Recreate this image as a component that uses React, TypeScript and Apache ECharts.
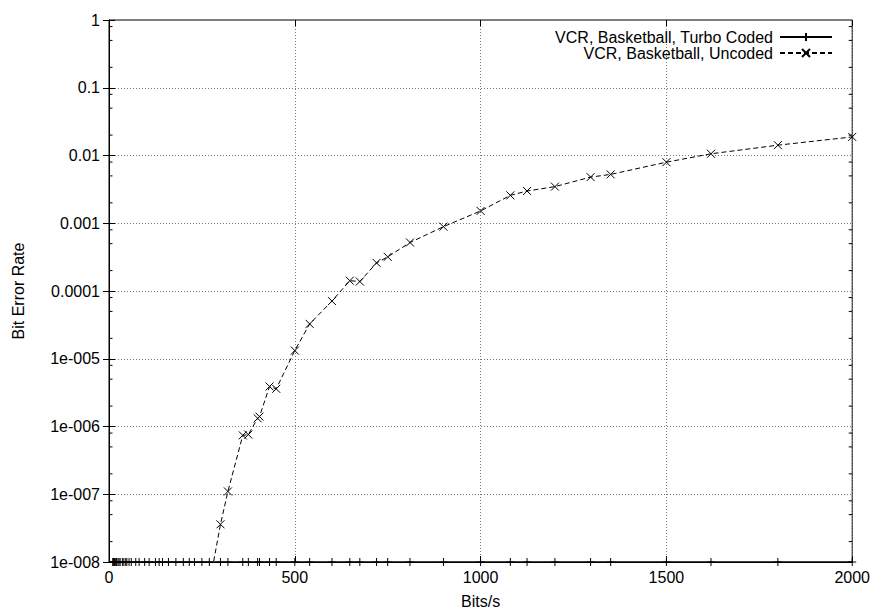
import React, { useEffect, useRef } from "react";
import * as echarts from "echarts";

// ---- data ----
const turboName = "VCR, Basketball, Turbo Coded";
const uncodedName = "VCR, Basketball, Uncoded";

const turboBitRates = [
  10, 12, 15, 18, 20, 24, 27, 30, 36, 40, 45, 48, 54, 60, 72, 81, 96, 108, 125, 135, 144, 160, 180,
  200, 216, 230, 250, 270, 300, 320, 360, 375, 400, 405, 432, 450, 500, 540, 600, 648, 675, 720,
  750, 810, 900, 1000, 1080, 1125, 1200, 1296, 1350, 1500, 1620, 1800, 2000,
];
const turboBER = [
  1e-8, 1e-8, 1e-8, 1e-8, 1e-8, 1e-8, 1e-8, 1e-8, 1e-8, 1e-8, 1e-8, 1e-8, 1e-8, 1e-8, 1e-8, 1e-8,
  1e-8, 1e-8, 1e-8, 1e-8, 1e-8, 1e-8, 1e-8, 1e-8, 1e-8, 1e-8, 1e-8, 1e-8, 1e-8, 1e-8, 1e-8, 1e-8,
  1e-8, 1e-8, 1e-8, 1e-8, 1e-8, 1e-8, 1e-8, 1e-8, 1e-8, 1e-8, 1e-8, 1e-8, 1e-8, 1e-8, 1e-8, 1e-8,
  1e-8, 1e-8, 1e-8, 1e-8, 1e-8, 1e-8, 1e-8,
];

const uncodedBitRates = [
  270, 300, 320, 360, 375, 400, 405, 432, 450, 500, 540, 600, 648, 675, 720, 750, 810, 900, 1000,
  1080, 1125, 1200, 1296, 1350, 1500, 1620, 1800, 2000,
];
const uncodedBER = [
  4.6e-9, 3.6e-8, 1.1e-7, 7.4e-7, 7.6e-7, 1.32e-6, 1.4e-6, 3.9e-6, 3.6e-6, 1.32e-5, 3.27e-5,
  7.1e-5, 1.42e-4, 1.38e-4, 2.6e-4, 3.19e-4, 5.2e-4, 8.9e-4, 1.52e-3, 2.58e-3, 2.99e-3, 3.47e-3,
  4.8e-3, 5.26e-3, 7.97e-3, 1.06e-2, 1.42e-2, 1.88e-2,
];

const xTickLabels = ["0", "500", "1000", "1500", "2000"];
const yTickLabels = ["1e-008", "1e-007", "1e-006", "1e-005", "0.0001", "0.001", "0.01", "0.1", "1"];
const yMinorTicks = [
  2e-8, 5e-8, 8e-8, 2e-7, 5e-7, 8e-7, 2e-6, 5e-6, 8e-6, 2e-5, 5e-5, 8e-5, 2e-4, 5e-4, 8e-4, 2e-3,
  5e-3, 8e-3, 2e-2, 5e-2, 8e-2, 2e-1, 5e-1, 8e-1,
];

const FONT = "Liberation Sans";

export default function App() {
  const ref = useRef<HTMLDivElement>(null);

  useEffect(() => {
    if (!ref.current) return;
    const chart = echarts.init(ref.current, null, { renderer: "svg" });

    const crossSymbol = "path://M0,0L10,10M10,0L0,10";
    const plusSymbol = "path://M5,0L5,10M0,5L10,5";

    const option: any = {
      animation: false,
      backgroundColor: "#fff",
      textStyle: { fontFamily: FONT, color: "#000" },
      grid: {
        left: 109,
        right: 20,
        top: 20,
        bottom: 50,
        show: true,
        borderColor: "#000",
        borderWidth: 1,
      },
      legend: [
        {
          data: [turboName],
          right: 40,
          top: 29,
          padding: 0,
          align: "right",
          itemWidth: 52,
          itemHeight: 10,
          itemGap: 0,
          textStyle: { fontFamily: FONT, fontSize: 16, color: "#000", padding: [0, 2, 0, 0] },
          selectedMode: false,
        },
        {
          data: [uncodedName],
          right: 40,
          top: 45,
          padding: 0,
          align: "right",
          itemWidth: 52,
          itemHeight: 10,
          itemGap: 0,
          textStyle: { fontFamily: FONT, fontSize: 16, color: "#000", padding: [0, 2, 0, 0] },
          selectedMode: false,
        },
      ],
      xAxis: [
        {
          type: "value",
          min: 0,
          max: 2000,
          interval: 500,
          name: "Bits/s",
          nameLocation: "middle",
          nameGap: 31,
          nameTextStyle: { fontFamily: FONT, fontSize: 16, color: "#000" },
          axisLine: { show: true, lineStyle: { color: "#000", width: 1 } },
          axisTick: { show: true, inside: true, length: 6, lineStyle: { color: "#000" } },
          axisLabel: {
            fontFamily: FONT,
            fontSize: 16,
            color: "#000",
            margin: 7,
            formatter: (v: number) => xTickLabels[Math.round(v / 500)] ?? "",
          },
          splitLine: { show: true, lineStyle: { color: "#777", width: 1, type: [1, 2] } },
        },
        {
          type: "value",
          position: "top",
          min: 0,
          max: 2000,
          interval: 500,
          axisLine: { show: false },
          axisTick: { show: true, inside: true, length: 6, lineStyle: { color: "#000" } },
          axisLabel: { show: false },
          splitLine: { show: false },
        },
      ],
      yAxis: [
        {
          type: "log",
          logBase: 10,
          min: 1e-8,
          max: 1,
          interval: 1,
          name: "Bit Error Rate",
          nameLocation: "middle",
          nameGap: 83,
          nameRotate: 90,
          nameTextStyle: { fontFamily: FONT, fontSize: 16, color: "#000" },
          axisLine: { show: true, lineStyle: { color: "#000", width: 1 } },
          axisTick: { show: true, inside: true, length: 6, lineStyle: { color: "#000" } },
          axisLabel: {
            fontFamily: FONT,
            fontSize: 16,
            color: "#000",
            margin: 9,
            formatter: (v: number) => {
              const i = Math.round(Math.log10(v)) + 8;
              return yTickLabels[i] ?? "";
            },
          },
          splitLine: { show: true, lineStyle: { color: "#777", width: 1, type: [1, 2] } },
        },
        {
          type: "log",
          logBase: 10,
          position: "right",
          min: 1e-8,
          max: 1,
          interval: 1,
          axisLine: { show: false },
          axisTick: { show: true, inside: true, length: 6, lineStyle: { color: "#000" } },
          axisLabel: { show: false },
          splitLine: { show: false },
        },
      ],
      series: [
        {
          name: turboName,
          type: "line",
          xAxisIndex: 0,
          yAxisIndex: 0,
          data: turboBitRates.map((x, i) => [x, turboBER[i]]),
          symbol: plusSymbol,
          symbolSize: 8,
          showAllSymbol: true,
          clip: false,
          lineStyle: { color: "#000", width: 1, type: "solid" },
          itemStyle: { color: "#000", borderColor: "#000", borderWidth: 1 },
          emphasis: { disabled: true },
          z: 3,
        },
        {
          name: uncodedName,
          type: "line",
          xAxisIndex: 0,
          yAxisIndex: 0,
          data: uncodedBitRates.map((x, i) => [x, uncodedBER[i]]),
          symbol: crossSymbol,
          symbolSize: 8,
          showAllSymbol: true,
          clip: true,
          lineStyle: { color: "#000", width: 1, type: [5, 3] },
          itemStyle: { color: "#000", borderColor: "#000", borderWidth: 1 },
          emphasis: { disabled: true },
          z: 3,
        },
        {
          name: "minorTicks",
          type: "custom",
          xAxisIndex: 0,
          yAxisIndex: 0,
          silent: true,
          data: yMinorTicks.map((v) => [0, v]),
          renderItem: (params: any, api: any) => {
            const y = api.coord([0, api.value(1)])[1];
            const cs = params.coordSys;
            const len = 3.5;
            return {
              type: "group",
              children: [
                {
                  type: "line",
                  shape: { x1: cs.x, y1: y, x2: cs.x + len, y2: y },
                  style: { stroke: "#000", lineWidth: 1 },
                },
                {
                  type: "line",
                  shape: { x1: cs.x + cs.width - len, y1: y, x2: cs.x + cs.width, y2: y },
                  style: { stroke: "#000", lineWidth: 1 },
                },
              ],
            };
          },
          z: 4,
        },
      ],
    };

    chart.setOption(option);
    return () => chart.dispose();
  }, []);

  return (
    <div
      ref={ref}
      style={{ position: "absolute", left: 0, top: 0, width: 873, height: 614, background: "#fff" }}
    />
  );
}
